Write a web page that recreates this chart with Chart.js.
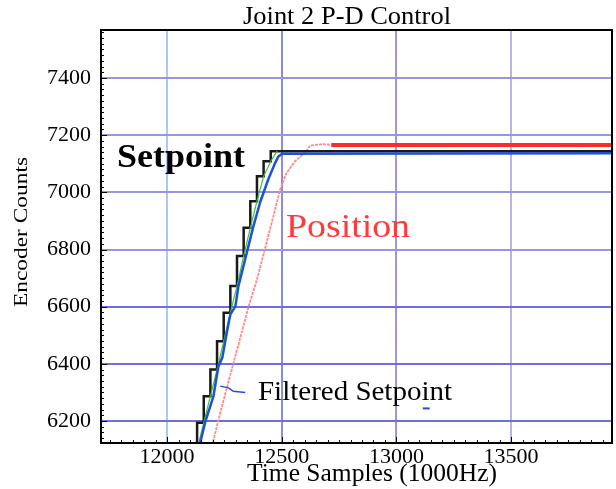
<!DOCTYPE html>
<html>
<head>
<meta charset="utf-8">
<title>Joint 2 P-D Control</title>
<script src="https://cdn.jsdelivr.net/npm/chart.js@4.4.1/dist/chart.umd.min.js"></script>
<style>
  html, body { margin: 0; padding: 0; background: #fff; }
  #wrap { width: 616px; height: 489px; position: relative; }
</style>
</head>
<body>
<div id="wrap"><canvas id="chart"></canvas></div>
<script>
// axis ticks
const xTicks = [12000, 12500, 13000, 13500];
const yTicks = [6200, 6400, 6600, 6800, 7000, 7200, 7400];

// setpoint staircase (x where each step rises, level after the rise)
const setpointX = [12131, 12131, 12160, 12189, 12218, 12247, 12276, 12305, 12334, 12363, 12392, 12421, 12452, 13940];
const setpointY = [6100, 6194, 6287, 6380, 6479, 6579, 6672, 6777, 6876, 6969, 7056, 7109, 7144, 7144];

// green interpolated setpoint
const rampX = [12131, 12160, 12189, 12218, 12247, 12276, 12305, 12334, 12363, 12392, 12421, 12452, 12480];
const rampY = [6100, 6194, 6287, 6380, 6479, 6579, 6672, 6777, 6876, 6969, 7056, 7109, 7144];

// filtered setpoint (blue)
const filteredX = [12140, 12145, 12166, 12202, 12224, 12241, 12263, 12276, 12298, 12311, 12348, 12376, 12407, 12441, 12472, 12485, 12502, 13940];
const filteredY = [6100, 6125, 6195, 6286, 6391, 6422, 6520, 6573, 6601, 6671, 6790, 6880, 6968, 7045, 7104, 7125, 7135, 7137];

// position (red)
const positionX = [12195, 12200, 12232, 12290, 12356, 12392, 12441, 12471, 12493, 12521, 12558, 12601, 12624, 12682, 12716];
const positionY = [6100, 6125, 6229, 6404, 6602, 6695, 6847, 6940, 7010, 7068, 7109, 7138, 7164, 7169, 7166];
const positionHoldX = [12716, 13940];
const positionHoldY = [7166, 7166];

// leader line for the "Filtered Setpoint" label and a stray marker
const leaderX = [12232, 12268, 12289, 12341];
const leaderY = [6322, 6316, 6304, 6300];
const markX = [13115, 13145];
const markY = [6244, 6244];

function pts(xs, ys) {
  return xs.map((x, i) => ({ x: x, y: ys[i] }));
}

const serif = '"Liberation Serif", "Times New Roman", serif';

// draws text stretched to a given width
function fitText(ctx, text, x, y, size, width, opts) {
  opts = opts || {};
  ctx.save();
  ctx.font = (opts.bold ? 'bold ' : '') + size + 'px ' + serif;
  ctx.fillStyle = opts.color || '#000';
  ctx.textBaseline = 'alphabetic';
  ctx.textAlign = 'left';
  const w = ctx.measureText(text).width;
  ctx.translate(x, y);
  if (opts.rotate) ctx.rotate(opts.rotate);
  ctx.scale(width / w, opts.squash || 1);
  ctx.fillText(text, 0, 0);
  ctx.restore();
}

const decor = {
  id: 'decor',
  beforeDraw(chart) {
    const ctx = chart.ctx;
    ctx.save();
    ctx.fillStyle = '#fff';
    ctx.fillRect(0, 0, chart.width, chart.height);
    ctx.restore();
  },
  afterDraw(chart) {
    const ctx = chart.ctx;
    const a = chart.chartArea;
    const xs = chart.scales.x;
    const ys = chart.scales.y;

    // frame
    ctx.save();
    ctx.strokeStyle = '#000';
    ctx.lineWidth = 2;
    ctx.strokeRect(a.left, a.top, a.right - a.left, a.bottom - a.top);

    // minor ticks, inward
    ctx.lineWidth = 1;
    ctx.beginPath();
    for (let v = Math.ceil(ys.min / 20) * 20; v <= ys.max; v += 20) {
      const py = Math.round(ys.getPixelForValue(v)) + 0.5;
      const len = v % 200 === 0 ? 6 : 3;
      ctx.moveTo(a.left, py);
      ctx.lineTo(a.left + len, py);
    }
    for (let v = Math.ceil(xs.min / 50) * 50; v <= xs.max; v += 50) {
      const px = Math.round(xs.getPixelForValue(v)) + 0.5;
      const len = v % 500 === 0 ? 6 : 3;
      ctx.moveTo(px, a.bottom);
      ctx.lineTo(px, a.bottom - len);
    }
    ctx.stroke();
    ctx.restore();

    // titles
    fitText(ctx, 'Joint 2 P-D Control', 243, 24, 25, 208);
    fitText(ctx, 'Time Samples (1000Hz)', 247, 481, 25, 250);
    fitText(ctx, 'Encoder Counts', 27, 307, 25, 150, { rotate: -Math.PI / 2, squash: 0.72 });

    // annotations
    fitText(ctx, 'Setpoint', 117, 167, 33, 128, { bold: true });
    fitText(ctx, 'Position', 286, 237, 33, 124, { color: '#ff3b3b' });
    fitText(ctx, 'Filtered Setpoint', 258, 400, 27, 194);
  }
};

function gridColorX(c) {
  const v = c.tick && c.tick.value;
  if (v === 12000) return 'rgb(170,200,240)';
  if (v === 13500) return 'rgb(185,180,230)';
  if (v === 13000) return 'rgb(160,150,220)';
  return 'rgb(140,140,215)';
}
function gridColorY(c) {
  const v = c.tick && c.tick.value;
  return v >= 6800 ? 'rgb(150,150,225)' : 'rgb(110,110,225)';
}

new Chart(document.getElementById('chart'), {
  type: 'line',
  data: {
    datasets: [
      { label: 'Position', data: pts(positionX, positionY), borderColor: '#ff8a8a', borderWidth: 1.8, borderDash: [3, 1], order: 5 },
      { label: 'Position hold', data: pts(positionHoldX, positionHoldY), borderColor: '#ff2a2a', borderWidth: 4, order: 4 },
      { label: 'Setpoint', data: pts(setpointX, setpointY), borderColor: '#1a1a1a', borderWidth: 2.5, stepped: 'before', order: 3 },
      { label: 'Ramp', data: pts(rampX, rampY), borderColor: '#3cc03c', borderWidth: 1.2, order: 2 },
      { label: 'Filtered Setpoint', data: pts(filteredX, filteredY), borderColor: '#1f50d8', borderWidth: 2.5, order: 1 },
      { label: 'leader', data: pts(leaderX, leaderY), borderColor: '#1f50d8', borderWidth: 1.5, order: 1 },
      { label: 'mark', data: pts(markX, markY), borderColor: '#1f50d8', borderWidth: 2, order: 1 }
    ]
  },
  options: {
    responsive: true,
    maintainAspectRatio: false,
    animation: false,
    layout: { padding: { top: 30, right: 4, left: 0, bottom: 0 } },
    elements: { point: { radius: 0 }, line: { tension: 0, borderCapStyle: 'butt' } },
    plugins: { legend: { display: false }, tooltip: { enabled: false } },
    scales: {
      x: {
        type: 'linear',
        min: 11712,
        max: 13940,
        afterFit: s => { s.height = 46; },
        afterBuildTicks: s => { s.ticks = xTicks.map(v => ({ value: v })); },
        grid: { color: gridColorX, lineWidth: 2, drawTicks: false },
        border: { display: false },
        ticks: { color: '#000', padding: 1, maxRotation: 0, font: { family: serif, size: 22 }, callback: v => String(v) }
      },
      y: {
        type: 'linear',
        min: 6123,
        max: 7568,
        afterFit: s => { s.width = 101; },
        afterBuildTicks: s => { s.ticks = yTicks.map(v => ({ value: v })); },
        grid: { color: gridColorY, lineWidth: 2, drawTicks: false },
        border: { display: false },
        ticks: { color: '#000', padding: 10, font: { family: serif, size: 22 }, callback: v => String(v) }
      }
    }
  },
  plugins: [decor]
});
</script>
</body>
</html>
